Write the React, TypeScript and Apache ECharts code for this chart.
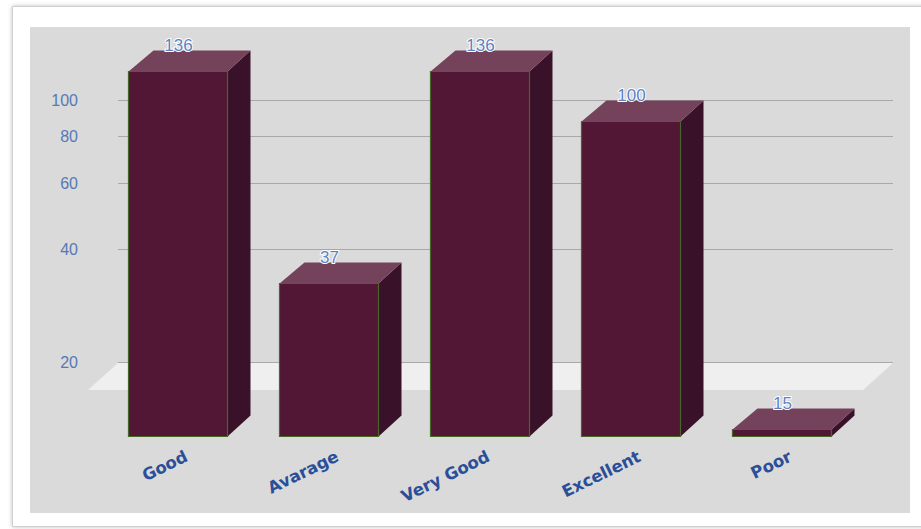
import React, { useEffect, useRef } from "react";
import * as echarts from "echarts";

const categories = ["Good", "Avarage", "Very Good", "Excellent", "Poor"];
const values = [136, 37, 136, 100, 15];
const tickValues = [20, 40, 60, 80, 100];
const axisMin = 14.4;
const axisMax = 156.6;

const DX = 24;
const DY = 21;

export default function App() {
  const ref = useRef<HTMLDivElement>(null);
  useEffect(() => {
    if (!ref.current) return;
    const chart = echarts.init(ref.current, null, { renderer: "svg" });
    const option: any = {
      animation: false,
      backgroundColor: "#ffffff",
      grid: { left: 126, right: 40, top: 27, bottom: 114, containLabel: false },
      xAxis: {
        type: "category",
        data: categories,
        show: false,
      },
      yAxis: {
        type: "log",
        logBase: 10,
        min: axisMin,
        max: axisMax,
        show: false,
      },
      graphic: [
        {
          type: "rect",
          z: 0,
          shape: { x: 12.5, y: 6.5, width: 930, height: 520 },
          style: {
            fill: "#ffffff",
            stroke: "#cfcfcf",
            lineWidth: 1,
            shadowBlur: 4,
            shadowColor: "rgba(0,0,0,0.25)",
          },
        },
        {
          type: "rect",
          z: 0,
          shape: { x: 30, y: 27, width: 880, height: 486 },
          style: { fill: "#dadada" },
        },
        {
          type: "polygon",
          z: 0,
          shape: {
            points: [
              [118, 363],
              [893, 363],
              [863, 390],
              [88, 390],
            ],
          },
          style: { fill: "#efefef" },
        },
      ],
      series: [
        {
          type: "custom",
          clip: false,
          silent: true,
          data: tickValues.map((v) => [0, v]),
          renderItem: (params: any, api: any) => {
            const cs = params.coordSys;
            const y = Math.round(api.coord([0, api.value(1)])[1]) + 0.5;
            return {
              type: "group",
              children: [
                {
                  type: "line",
                  shape: { x1: cs.x - 8, y1: y, x2: cs.x + cs.width + 12, y2: y },
                  style: { stroke: "#a9a9a9", lineWidth: 1 },
                },
                {
                  type: "text",
                  x: cs.x - 48,
                  y: y,
                  style: {
                    text: String(api.value(1)),
                    align: "right",
                    verticalAlign: "middle",
                    fill: "#5579b5",
                    font: "16px 'Liberation Sans', Arial, sans-serif",
                  },
                },
              ],
            };
          },
        },
        {
          type: "custom",
          clip: false,
          silent: true,
          data: values.map((v, i) => [i, v]),
          renderItem: (params: any, api: any) => {
            const i = api.value(0);
            const v = api.value(1);
            const cs = params.coordSys;
            const top = api.coord([i, v]);
            const band = api.size([1, 0])[0];
            const w = Math.round(band * 0.656);
            const fcx = top[0] - DX;
            const x0 = Math.round(fcx - w / 2) + 0.5;
            const x1 = x0 + w;
            const yTF = Math.round(top[1] + DY) + 0.5;
            const yBF = Math.round(cs.y + cs.height + DY) + 0.5;
            return {
              type: "group",
              children: [
                {
                  type: "polygon",
                  shape: {
                    points: [
                      [x1, yTF],
                      [x1 + DX - 1, yTF - DY],
                      [x1 + DX - 1, yBF - DY],
                      [x1, yBF],
                    ],
                  },
                  style: { fill: "#39122a" },
                },
                {
                  type: "polygon",
                  shape: {
                    points: [
                      [x0, yTF],
                      [x0 + DX + 1, yTF - DY],
                      [x1 + DX - 1, yTF - DY],
                      [x1, yTF],
                    ],
                  },
                  style: { fill: "#74435b" },
                },
                {
                  type: "rect",
                  shape: { x: x0, y: yTF, width: w, height: yBF - yTF },
                  style: { fill: "#521735", stroke: "#46662a", lineWidth: 1.2 },
                },
                {
                  type: "text",
                  x: fcx + 1,
                  y: yTF - DY - 5,
                  style: {
                    text: String(v),
                    align: "center",
                    verticalAlign: "middle",
                    fill: "#5f82bf",
                    stroke: "#ffffff",
                    lineWidth: 2,
                    font: "17px 'Liberation Sans', Arial, sans-serif",
                  },
                },
                {
                  type: "text",
                  x: fcx + 9,
                  y: yBF + 19,
                  rotation: (26 * Math.PI) / 180,
                  style: {
                    text: categories[i],
                    align: "right",
                    verticalAlign: "middle",
                    fill: "#2a4f98",
                    font: "bold 16.5px 'DejaVu Sans', Verdana, sans-serif",
                  },
                },
              ],
            };
          },
        },
      ],
    };
    chart.setOption(option);
    return () => chart.dispose();
  }, []);
  return (
    <div
      ref={ref}
      style={{ position: "absolute", left: 0, top: 0, width: 921, height: 529 }}
    />
  );
}
